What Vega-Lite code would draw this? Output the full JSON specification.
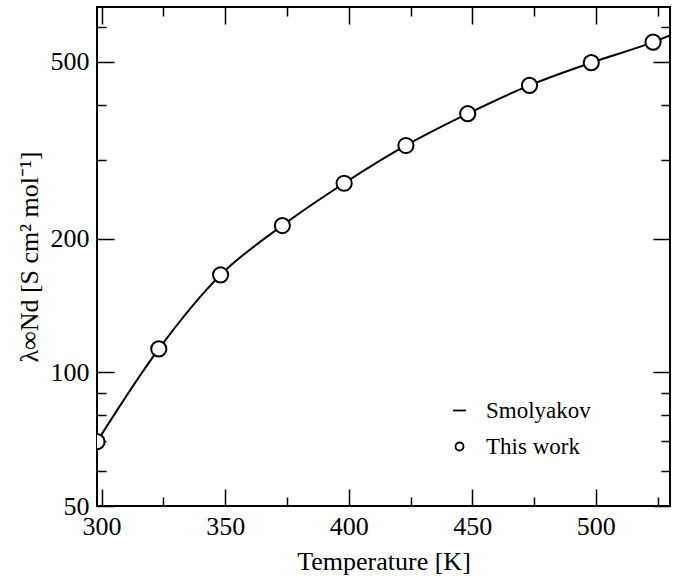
{
  "$schema": "https://vega.github.io/schema/vega-lite/v6.json",
  "width": 573,
  "height": 499,
  "autosize": {"type": "none"},
  "padding": {"left": 97, "top": 7, "right": 4, "bottom": 71},
  "background": "white",
  "config": {
    "font": "Liberation Serif",
    "view": {"stroke": "black", "strokeWidth": 2},
    "axis": {
      "domain": false,
      "grid": false,
      "tickColor": "black",
      "tickWidth": 1.5,
      "labelFont": "Liberation Serif",
      "labelFontSize": 26,
      "labelColor": "black",
      "titleFont": "Liberation Serif",
      "titleFontSize": 26,
      "titleFontWeight": "normal",
      "titleColor": "black",
      "labelOverlap": false,
      "labelBound": false,
      "labelFlush": false
    }
  },
  "datasets": {
    "smol": [
      {"T": 298.15, "L": 69.8},
      {"T": 323.15, "L": 112.9},
      {"T": 348.15, "L": 165.8},
      {"T": 373.15, "L": 214.1},
      {"T": 398.15, "L": 266.6},
      {"T": 423.15, "L": 324.3},
      {"T": 448.15, "L": 382.4},
      {"T": 473.15, "L": 442.9},
      {"T": 498.15, "L": 498.3},
      {"T": 523.15, "L": 554.3},
      {"T": 530, "L": 574}
    ],
    "pts": [
      {"T": 298.15, "L": 69.8, "series": "This work"},
      {"T": 323.15, "L": 112.9, "series": "This work"},
      {"T": 348.15, "L": 165.8, "series": "This work"},
      {"T": 373.15, "L": 214.1, "series": "This work"},
      {"T": 398.15, "L": 266.6, "series": "This work"},
      {"T": 423.15, "L": 324.3, "series": "This work"},
      {"T": 448.15, "L": 382.4, "series": "This work"},
      {"T": 473.15, "L": 442.9, "series": "This work"},
      {"T": 498.15, "L": 498.3, "series": "This work"},
      {"T": 523.15, "L": 554.3, "series": "This work"}
    ]
  },
  "resolve": {"axis": {"x": "independent", "y": "independent"}},
  "layer": [
    {
      "data": {"name": "smol"},
      "mark": {"type": "line", "color": "black", "strokeWidth": 2, "interpolate": "monotone", "clip": true},
      "encoding": {
        "x": {"field": "T", "type": "quantitative",
              "scale": {"domain": [298.15, 530], "nice": false, "zero": false},
              "axis": {"orient": "bottom", "values": [300, 350, 400, 450, 500], "ticks": false, "labelPadding": 7, "labelFontSize": 26, "format": "d", "title": "Temperature [K]", "titlePadding": 9}},
        "y": {"field": "L", "type": "quantitative",
              "scale": {"type": "log", "domain": [50, 665], "nice": false},
              "axis": {"orient": "left", "values": [50, 100, 200, 500], "ticks": false, "labelPadding": 8, "labelFontSize": 26, "format": "d", "title": "λ∞Nd [S cm² mol⁻¹]", "titlePadding": 8}}
      }
    },
    {
      "data": {"name": "pts"},
      "mark": {"type": "circle", "color": "white", "opacity": 1, "size": 230, "clip": true},
      "encoding": {
        "x": {"field": "T", "type": "quantitative",
              "axis": {"orient": "bottom", "values": [300, 350, 400, 450, 500], "tickSize": -17, "labels": false, "title": null}},
        "y": {"field": "L", "type": "quantitative",
              "axis": {"orient": "left", "values": [50, 100, 200, 500], "tickSize": -17, "labels": false, "title": null}}
      }
    },
    {
      "data": {"name": "pts"},
      "mark": {"type": "point", "filled": false, "color": "black", "opacity": 1, "strokeWidth": 2, "size": 230, "clip": true},
      "encoding": {
        "x": {"field": "T", "type": "quantitative",
              "axis": {"orient": "bottom", "values": [325, 375, 425, 475, 525], "tickSize": -9, "labels": false, "title": null}},
        "y": {"field": "L", "type": "quantitative",
              "axis": {"orient": "left", "values": [60, 70, 80, 90, 300, 400, 600], "tickSize": -9, "labels": false, "title": null}},
        "shape": {"field": "series", "type": "nominal",
                  "scale": {"domain": ["Smolyakov", "This work"], "range": ["M-1.6,0H1.6", "circle"]},
                  "legend": {"title": null, "orient": "none", "legendX": 351, "legendY": 392,
                             "symbolSize": 64, "symbolStrokeWidth": 1.8,
                             "labelFont": "Liberation Serif", "labelFontSize": 23, "labelColor": "black", "labelOffset": 15,
                             "rowPadding": 12}}
      }
    },
    {
      "data": {"name": "pts"},
      "mark": {"type": "point", "size": 0, "strokeOpacity": 0, "fillOpacity": 0},
      "encoding": {
        "x": {"field": "T", "type": "quantitative",
              "axis": {"orient": "top", "values": [300, 350, 400, 450, 500], "tickSize": -17, "labels": false, "title": null}},
        "y": {"field": "L", "type": "quantitative",
              "axis": {"orient": "right", "values": [50, 100, 200, 500], "tickSize": -17, "labels": false, "title": null}}
      }
    },
    {
      "data": {"name": "pts"},
      "mark": {"type": "point", "size": 0, "strokeOpacity": 0, "fillOpacity": 0},
      "encoding": {
        "x": {"field": "T", "type": "quantitative",
              "axis": {"orient": "top", "values": [325, 375, 425, 475, 525], "tickSize": -9, "labels": false, "title": null}},
        "y": {"field": "L", "type": "quantitative",
              "axis": {"orient": "right", "values": [60, 70, 80, 90, 300, 400, 600], "tickSize": -9, "labels": false, "title": null}}
      }
    }
  ]
}
